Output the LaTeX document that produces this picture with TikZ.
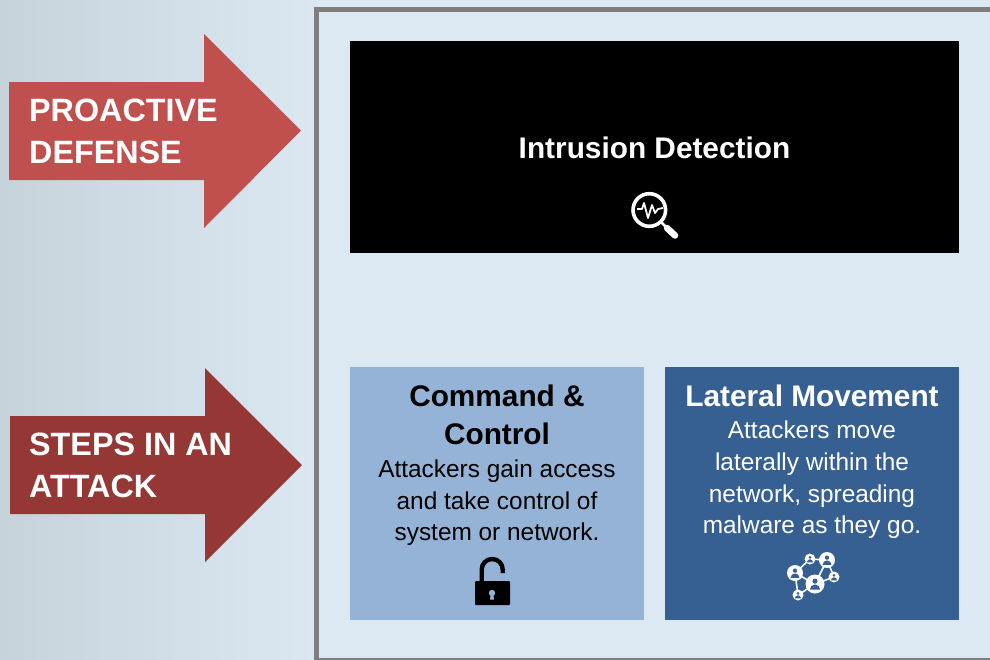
\documentclass[tikz,border=0pt]{standalone}
\usepackage{fontspec}
\setmainfont{Liberation Sans}
\usetikzlibrary{positioning}
\definecolor{framegray}{HTML}{7F7F7F}
\definecolor{panelblue}{HTML}{DCE9F3}
\definecolor{paleside}{HTML}{C6D3DB}
\definecolor{sideblue}{HTML}{DBE8F2}
\definecolor{proactred}{HTML}{C0504D}
\definecolor{attackred}{HTML}{953735}
\definecolor{controlblue}{HTML}{95B3D7}
\definecolor{movedblue}{HTML}{376092}
\tikzset{
  sidelabel/.style={text=white,font=\fontsize{32.3}{42}\selectfont\bfseries,align=left,anchor=west,inner sep=0},
  stepbox/.style={minimum width=294,minimum height=253,anchor=north west,inner sep=0},
  boxhead/.style={font=\fontsize{29.8}{38}\selectfont\bfseries,align=center},
  boxtext/.style={font=\fontsize{24.4}{31.6}\selectfont,align=center},
  netlink/.style={draw=white,line width=1.6}
}
\newcommand{\netperson}[3]{% x, y, radius
  \fill[white] (#1,#2) circle (#3);
  \fill[movedblue] (#1,#2-0.3*#3) circle (0.27*#3);
  \fill[movedblue] (#1-0.55*#3,#2+0.6*#3) arc (180:360:0.55*#3 and 0.55*#3) -- cycle;
}
\begin{document}
\begin{tikzpicture}[x=1pt,y=-1pt]

  \useasboundingbox (0,0) rectangle (990,659);
  \fill[panelblue] (0,0) rectangle (990,659);
  \shade[left color=paleside,right color=sideblue] (0,0) rectangle (316,659);

  % frame
  \draw[framegray,line width=5.2] (995,9.2) -- (316.4,9.2) -- (316.4,660.5) -- (995,660.5);

  % arrows on the left
  \fill[proactred] (9,82) -- (204,82) -- (204,34) -- (301,130.5) -- (204,228) -- (204,180) -- (9,180) -- cycle;
  \fill[attackred] (10,416) -- (205,416) -- (205,368) -- (302,465) -- (205,562) -- (205,514) -- (10,514) -- cycle;
  \node[sidelabel] (proactive) at (29,131) {PROACTIVE\\DEFENSE};
  \node[sidelabel] (steps) at (29,465) {STEPS IN AN\\ATTACK};

  % boxes
  \node[fill=black,minimum width=609,minimum height=212,anchor=north west,inner sep=0] (detect) at (350,41) {};
  \node[stepbox,fill=controlblue] (control) at (350,367) {};
  \node[stepbox,fill=movedblue] (lateral) at (665,367) {};

  \node[boxhead,text=white] (detecthead) at (654.5,148) {Intrusion Detection};

  \node[boxhead] (controlhead) at (497,414.5) {Command \&\\Control};
  \node[boxtext] (controltext) at (497,503) {Attackers gain access\\and take control of\\system or network.};

  \node[boxhead,text=white] (lateralhead) at (812,396) {Lateral Movement};
  \node[boxtext,text=white] (lateraltext) at (812,480) {Attackers move\\laterally within the\\network, spreading\\malware as they go.};

  % magnifier
  \draw[white,line width=3.6] (649.3,210) circle (16.3);
  \draw[white,line width=2.6] (661,222) -- (667,228);
  \draw[white,line width=6.5,line cap=round] (667,228) -- (675,235.5);
  \draw[white,line width=1.8,line join=round] (637,209) -- (642,209) -- (644,203) -- (648,218) -- (652,205) -- (655,213) -- (658,209) -- (663,208);

  % lock
  \fill[black,rounded corners=1] (475,581) rectangle (510,605);
  \draw[black,line width=4.4] (481.7,581) -- (481.7,569.5) arc (180:360:10.5) -- (502.7,573);
  \fill[controlblue] (492,593) circle (3.2);
  \fill[controlblue] (490.8,593) -- (493.2,593) -- (494,599.5) -- (490,599.5) -- cycle;

  % people network
  \draw[netlink] (795,573) -- (810,559) -- (827,560) -- (834,577) -- (815,584) -- (795,573) -- (798,595) -- (815,584) -- (827,560);
  \netperson{795}{573}{8}
  \netperson{810}{559}{5.5}
  \netperson{827}{560}{8}
  \netperson{834}{577}{5.5}
  \netperson{815}{584}{9.5}
  \netperson{798}{595}{5.5}

\end{tikzpicture}
\end{document}
